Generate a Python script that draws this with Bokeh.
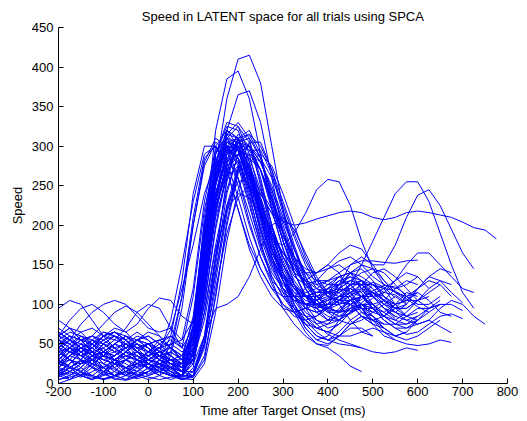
from bokeh.plotting import figure
from bokeh.models import Range1d, FixedTicker
from bokeh.embed import file_html
from bokeh.resources import INLINE

# time grid of the sampled trials (ms)
T_START = -200
T_STEP = 25

# speed of each trial, sampled every 25 ms from -200 ms
c01 = [30,45,60,55,40,35,45,55,45,30,20,10, 40,150,270,360,410,415,380,300,220,160,120,100,95,105,120,115,95,80]
c02 = [60,70,55,40,35,50,60,45,30,25,20,15, 60,190,320,385,395,360,290,220,170,140,130,140,150,140,115,95,90,100,110,100]
c03 = [10,15,25,30,20,10,5,15,25,20,10,5, 20,110,230,320,365,370,330,260,190,140,110,95,85,80,90,110,125,120,100,85,80]
c04 = [40,30,25,35,50,60,55,40,30,25,30,35, 80,200,290,325,320,280,220,170,140,120,110,105,115,130,135,120,100,85,80,90,105,110]
c05 = [50,40,35,45,60,65,55,40,30,25,20,15, 50,170,270,315,330,310,250,190,150,125,100,80,70,75,90,100,95,80]
c06 = [5,10,20,35,50,45,30,20,25,35,30,15, 30,130,250,310,325,305,260,200,140,100,70,55,60,80,100,95,80,65,60,65,80]
c07 = [15,25,40,30,15,5,10,25,40,35,20,10, 70,210,300,320,300,250,190,150,125,110,100,105,120,125,110,90,80,85,100,115,110]
c08 = [60,55,45,35,40,50,60,55,45,35,25,15, 35,140,260,315,310,270,210,160,130,105,85,75,80,95,105,95,75,60,55]
c09 = [25,35,30,20,10,15,30,35,25,15,10,5, 10,60,160,260,310,320,290,235,180,140,110,90,80,85,95,100,90,85,95,110,115,105,90,85]
c10 = [35,20,10,5,15,25,20,10,15,30,60,130, 240,300,300,270,220,175,145,120,100,90,95,110,115,100,80,65,60]
c11 = [10,20,15,5,10,25,30,20,10,15,25,20, 45,150,240,280,290,270,230,190,150,120,100,95,100,120,140,145,130,110,100,105,120,130,125,110]
c12 = [45,55,50,35,20,10,15,30,40,30,15,10, 30,120,210,260,275,265,235,195,160,135,125,130,145,150,140,120,110,115,130,140,135,120]
c13 = [20,15,25,40,45,30,15,10,20,30,25,15, 10,45,130,215,270,290,280,245,200,160,130,110,100,100,105,110,100,85,75,75,85,95,100]
c14 = [45,40,30,25,35,50,60,50,35,25,15,10, 60,180,265,300,295,260,215,175,140,110,85,70,65,75,90,95,85,70,60,65]
c15 = [60,50,35,30,40,50,45,30,20,15,40,110, 200,275,305,295,250,200,160,130,115,105,100,105,120,135,140,130,110,95,90,100]
c16 = [10,5,15,30,35,20,10,15,30,40,30,15, 15,50,120,190,235,250,240,215,185,160,145,140,150,165,175,170,150,130,115,110,120,135,145,140]
c17 = [25,30,20,10,5,10,20,25,20,15,10,8, 15,60,95,100,110,135,170,200,210,195,165,135,115,105,110,125,140,145,135,120,105,95,100]
c18 = [40,45,35,25,20,30,40,35,25,20,15,10, 25,90,170,220,240,235,215,190,165,145,130,120,115,120,130,125,110,95,85,80,85]
c19 = [35,45,55,50,35,30,40,55,50,35,25,15, 40,160,260,305,300,260,210,180,175,190,215,245,258,255,225,180,145,125,115,110,100]
c20 = [40,30,25,30,45,55,50,35,30,35,40,30, 50,170,270,310,305,275,240,215,205,200,203,208,212,216,218,216,210,207,210,216,218,216,213,210,204,197,194,183]
c21 = [55,45,35,40,55,60,50,40,35,40,45,35, 55,175,275,320,310,270,215,170,140,120,110,100,95,105,125,150,180,210,240,255,255,230,190,150,115,95]
c22 = [25,40,45,30,15,10,20,30,25,15,10,10, 40,140,240,290,300,275,230,185,150,125,110,100,105,125,150,160,150,150,175,210,238,245,225,195,165,145]
c23 = [50,60,55,40,25,20,30,45,50,40,25,15, 45,160,255,295,285,245,195,155,130,115,110,115,125,135,140,135,125,120,130,150,165,165,150,135,120,115]
c24 = [30,45,55,50,40,35,45,55,50,35,25,20, 30,120,220,280,295,270,220,170,135,110,90,80,75,80,95,110,115,105,90,80,75,80,95,105,100,85,75]
c25 = [30,15,10,20,40,50,40,25,20,25,30,25, 65,185,280,310,295,250,200,160,130,110,95,90,95,110,125,130,120,105,95,100,120,135,130,115,102]
c26 = [65,55,45,35,30,35,45,50,40,30,25,25, 35,130,240,295,305,295,270,235,195,155,120,95,80,80,90,100,95,80,70,62,65,75,85,88,82]
c27 = [20,30,45,55,45,30,20,15,25,35,30,20, 75,200,290,315,295,250,195,150,115,90,75,70,75,90,105,110,100,85,75,70,75,80,72,64]
c28 = [65,55,40,30,35,45,50,40,25,15,10,10, 40,150,250,300,300,265,210,160,120,95,80,70,65,60,60,65,70,65,55,50,48,50,55,52]
c29 = [15,10,20,35,40,30,15,10,15,25,20,10, 25,110,215,275,290,270,230,190,160,140,130,125,130,140,150,155,155,153,152,155,156]
c30 = [55,45,40,45,55,65,60,50,40,45,50,40, 50,165,260,300,285,240,180,130,95,75,60,50,45,35,22,15]
c31 = [45,60,55,40,30,25,30,40,50,45,35,25, 30,120,230,290,300,275,225,170,130,100,80,65,55,50,48,45]
c32 = [25,35,45,55,50,40,30,25,30,40,45,35, 60,180,270,300,280,230,175,135,110,90,75,60,55,60,70,70,60]
c33 = [30,20,10,5,15,30,40,35,25,15,10,5, 10,50,150,240,290,300,270,220,170,125,95,75,62,55,50,45,40,38,40,45,42]
c34 = [20,35,45,40,25,15,10,20,35,45,68,120, 175,240,280,285,260,215,170,135,110,95,85,85,95,105,100,85,75,70]
c35 = [10,20,30,25,15,10,15,25,30,40,80,150, 230,290,300,270,220,170,135,110,95,90,95,100,90,80,75,80,90]
c36 = [55,45,30,20,15,25,40,50,45,30,20,15, 15,55,140,225,275,290,270,230,190,155,125,105,92,85,88,98,108,115,112,102]
c37 = [0,5,15,25,20,10,5,10,20,25,15,5, 8,35,110,200,265,295,295,265,215,170,130,105,92,92,105,120,128,122,108]
c38 = [35,50,60,50,35,30,35,30,20,10,5,10, 55,170,265,305,300,265,215,170,135,110,95,90,95,105,115,110,95,80,70,70,80,95,105]
c39 = [15,5,10,25,35,30,20,10,5,10,20,25, 70,200,290,330,325,290,235,180,130,95,70,55,50,60,75,85,80,70]
c40 = [25,20,30,45,60,65,55,40,30,20,12,8, 30,130,235,290,305,300,285,260,225,185,150,125,115,115,125,130,120,105,95,95,105,120,130,125]
c41 = [8,15,10,5,12,25,35,30,18,10,35,95, 200,280,310,300,260,205,160,125,100,85,80,85,100,120,130,125,110,95,85]
c42 = [45,30,15,10,20,30,25,15,12,20,50,110, 210,285,300,280,235,185,145,120,110,110,120,130,130,120,105,95,95,105]
c43 = [12,25,40,50,40,25,12,8,15,30,40,30, 60,160,255,300,310,300,280,250,210,170,135,110,95,90,95,100,100,90,80,75,80,90,100,100,92]
c44 = [70,60,45,35,30,25,20,25,35,40,35,25, 40,135,235,285,300,285,245,200,160,130,110,100,100,105,115,125,125,115]
c45 = [95,105,100,80,60,55,70,90,100,95,70,45, 70,150,225,265,270,250,220,190,165,150,140,140,145,155,160,150,135,125,120,125,135]
c46 = [60,80,95,100,90,75,65,75,95,108,105,85, 75,150,230,275,285,265,225,185,150,125,110,105,110,125,135,130,115,100,95]
c47 = [40,55,75,90,100,105,100,85,70,65,70,55, 80,185,270,305,295,255,205,160,130,110,100,100,108,118,120,110,95,85]
c48 = [80,70,55,60,75,90,98,90,75,60,45,35, 55,140,225,270,280,260,220,180,145,120,105,100,105,115,125,125,115,105,100,105,115]
c49 = [5,8,12,10,6,10,15,12,8,5,8,10, 10,50,160,255,305,315,285,230,180,140,112,98,94,100,112,117,110,95,82]
c50 = [18,12,8,15,22,18,10,6,10,18,22,15, 40,150,255,305,310,280,230,180,140,115,100,95,100,110,110,100,85,70,60,55,60,70,80]
c51 = [12,20,28,22,12,6,4,8,15,22,18,10, 8,30,110,205,270,305,305,270,220,175,135,110,97,90,92,102,113,120,117,107,97,90]
c52 = [28,22,15,8,5,8,15,22,25,20,12,6, 5,25,90,180,245,280,290,275,240,200,160,130,110,102,100,106,117,124,122,112]
c53 = [55,65,60,45,35,40,55,65,55,40,30,25, 45,130,230,290,315,300,255,200,155,125,110,110,120,130,125,110,95,90,100]
c54 = [35,45,55,60,50,40,45,55,60,50,35,20, 30,100,200,270,305,310,285,240,190,150,125,110,105,110,120,130,125,110,95,85,90]
c55 = [65,55,45,50,60,65,55,40,35,45,55,45, 110,220,285,300,275,225,175,140,120,110,110,115,120,115,100,85,75]
c56 = [20,35,50,60,55,45,35,30,40,55,60,45, 35,90,175,245,290,300,280,245,205,170,140,120,110,105,105,110,115,110,100]
c57 = [50,40,35,45,60,70,65,50,40,35,30,20, 60,175,265,300,295,260,210,165,135,120,115,120,130,135,125,110,100,105,120,130,125]
c58 = [30,40,50,45,35,30,40,55,65,60,45,30, 25,60,140,220,270,285,270,235,190,150,120,100,90,90,100,110,110,100,90,85]
c59 = [45,55,65,70,60,45,35,40,50,55,45,30, 70,190,280,320,310,270,215,170,130,100,75,60,55,65,80,90,85,75,75,85,95,95]
c60 = [25,20,30,50,65,60,45,30,25,35,50,55, 120,230,295,310,285,235,185,145,120,105,100,105,115,120,115,100,90]
c61 = [60,70,65,50,35,30,40,55,60,50,35,25, 35,115,215,280,310,315,300,270,230,190,155,130,115,110,115,120,115,105,95,95,105]
c62 = [40,30,25,35,50,60,55,45,40,50,60,50, 40,100,195,265,300,300,270,225,180,145,125,115,115,125,140,150,145,130,115,105,105,115,125]
c63 = [55,50,40,30,25,35,50,60,55,40,30,30, 85,200,275,300,285,245,195,155,120,90,65,50,48,60,75,85,80,75]
c64 = [15,25,40,55,65,60,50,45,50,55,45,30, 30,80,160,225,255,260,245,220,190,160,140,130,125,125,130,140,145,140,125,110,100,100,110]

trials = [c01, c02, c03, c04, c05, c06, c07, c08, c09, c10, c11, c12, c13,
          c14, c15, c16, c17, c18, c19, c20, c21, c22, c23, c24, c25, c26,
          c27, c28, c29, c30, c31, c32, c33, c34, c35, c36, c37, c38, c39,
          c40, c41, c42, c43, c44, c45, c46, c47, c48, c49, c50, c51, c52,
          c53, c54, c55, c56, c57, c58, c59, c60, c61, c62, c63, c64]

x_ticks = [-200, -100, 0, 100, 200, 300, 400, 500, 600, 700, 800]
y_ticks = [0, 50, 100, 150, 200, 250, 300, 350, 400, 450]

TITLE = "Speed in LATENT space for all trials using SPCA"
X_LABEL = "Time after Target Onset (ms)"
Y_LABEL = "Speed"

FONT = "Liberation Sans"

p = figure(width=520, height=420, output_backend="svg",
           toolbar_location=None,
           x_range=Range1d(-200, 800), y_range=Range1d(0, 450),
           title=TITLE, x_axis_label=X_LABEL, y_axis_label=Y_LABEL,
           min_border_left=58, min_border_right=13, min_border_top=27,
           min_border_bottom=36)

xs = [[T_START + T_STEP * i for i in range(len(c))] for c in trials]
p.multi_line(xs, trials, line_color="#0000ff", line_width=1)

p.title.align = "center"
p.title.text_font = FONT
p.title.text_font_size = "13px"
p.title.text_font_style = "normal"
p.title.text_color = "black"
p.title.standoff = 8

p.xaxis.ticker = FixedTicker(ticks=x_ticks)
p.yaxis.ticker = FixedTicker(ticks=y_ticks)
p.xaxis.major_label_overrides = {t: str(t) for t in x_ticks}

for ax in (p.xaxis[0], p.yaxis[0]):
    ax.major_tick_in = 5
    ax.major_tick_out = 0
    ax.minor_tick_line_color = None
    ax.axis_line_color = "black"
    ax.major_tick_line_color = "black"
    ax.major_label_text_font = FONT
    ax.major_label_text_font_size = "13px"
    ax.major_label_text_color = "black"
    ax.axis_label_text_font = FONT
    ax.axis_label_text_font_size = "13px"
    ax.axis_label_text_font_style = "normal"
    ax.axis_label_text_color = "black"

p.xaxis.major_label_standoff = 3
p.xaxis.axis_label_standoff = 4
p.yaxis.major_label_standoff = 5
p.yaxis.axis_label_standoff = 4

p.xgrid.visible = False
p.ygrid.visible = False
p.outline_line_color = None
p.background_fill_color = "white"
p.border_fill_color = "white"

open("out.html", "w").write(file_html(p, INLINE))
